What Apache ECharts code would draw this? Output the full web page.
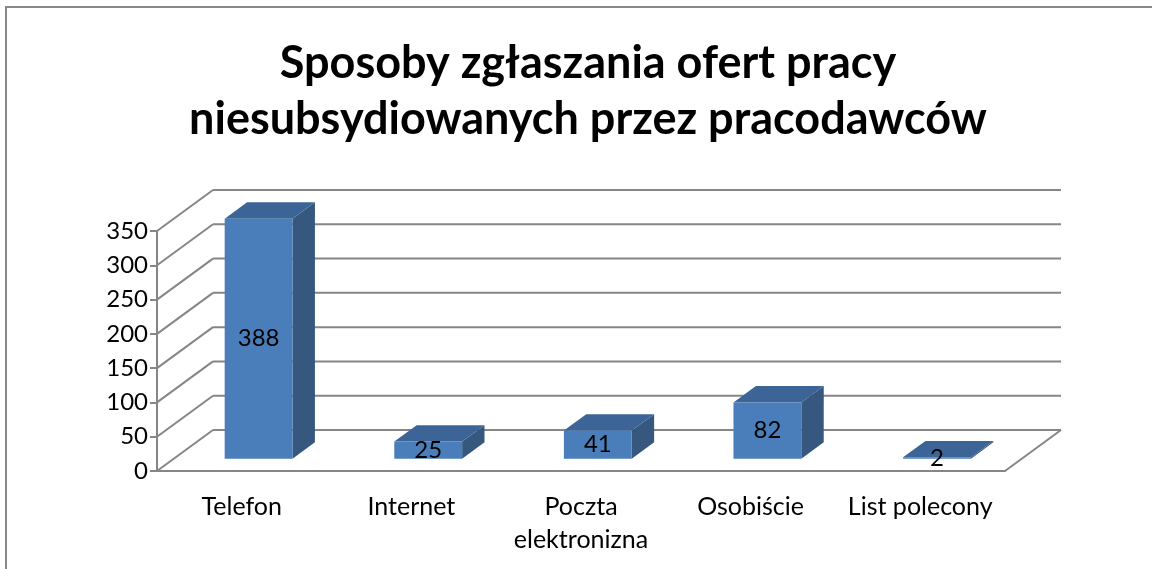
<!DOCTYPE html>
<html>
<head>
<meta charset="utf-8">
<script src="https://cdn.jsdelivr.net/npm/echarts@6/dist/echarts.min.js"></script>
<style>
  html, body { margin: 0; padding: 0; background: #fff; }
  #chart { width: 1152px; height: 569px; }
</style>
</head>
<body>
<div id="chart"></div>
<script>
    var categories = ['Telefon', 'Internet', 'Poczta\nelektronizna', 'Osobiście', 'List polecony'];
    var values = [388, 25, 41, 82, 2];
    var yTicks = [0, 50, 100, 150, 200, 250, 300, 350];
    var yMax = 350;

    // 3d look: offset of the back wall from the front plane
    var depthX = 56, depthY = -41;
    var barFront = 0.3, barBack = 0.7;
    var gridColor = '#868686';

    var chart = echarts.init(document.getElementById('chart'));

    function wallItem(params, api) {
        var v = api.value(1);
        var p = api.coord([0, v]);
        var catW = api.size([1, 0])[0];
        var x0 = p[0] - catW / 2;
        var x1 = x0 + catW * categories.length;
        var y = p[1];
        var style = { stroke: gridColor, lineWidth: 2 };
        var children = [
            { type: 'line', shape: { x1: x0, y1: y, x2: x0 + depthX, y2: y + depthY }, style: style },
            { type: 'line', shape: { x1: x0 + depthX, y1: y + depthY, x2: x1 + depthX, y2: y + depthY }, style: style }
        ];
        if (v === 0) {
            children.push({ type: 'line', shape: { x1: x1, y1: y, x2: x1 + depthX, y2: y + depthY }, style: style });
        }
        return { type: 'group', children: children };
    }

    function barItem(params, api) {
        var idx = api.value(0);
        var v = Math.min(api.value(1), yMax);
        var base = api.coord([idx, 0]);
        var top = api.coord([idx, v]);
        var catW = api.size([1, 0])[0];
        var w = catW * 0.4;
        var left = base[0] + barFront * depthX - w / 2;
        var right = left + w;
        var yb = base[1] + barFront * depthY;
        var yt = top[1] + barFront * depthY;
        var dx = (barBack - barFront) * depthX;
        var dy = (barBack - barFront) * depthY;
        return {
            type: 'group',
            children: [
                {
                    type: 'polygon',
                    shape: { points: [[right, yt], [right + dx, yt + dy], [right + dx, yb + dy], [right, yb]] },
                    style: { fill: '#36587F' }
                },
                {
                    type: 'polygon',
                    shape: { points: [[left, yt], [right, yt], [right + dx, yt + dy], [left + dx, yt + dy]] },
                    style: { fill: '#3C6496' }
                },
                {
                    type: 'rect',
                    shape: { x: left, y: yt, width: w, height: yb - yt },
                    style: { fill: '#4A7EBB' }
                },
                {
                    type: 'text',
                    x: (left + right) / 2,
                    y: (yt + yb) / 2,
                    style: {
                        text: String(api.value(1)),
                        fill: '#000',
                        font: '24px Lato',
                        align: 'center',
                        verticalAlign: 'middle'
                    }
                }
            ]
        };
    }

    var option = {
        animation: false,
        title: {
            text: 'Sposoby zgłaszania ofert pracy\nniesubsydiowanych przez pracodawców',
            left: 583,
            top: 30,
            textAlign: 'center',
            textStyle: {
                fontFamily: 'Lato',
                fontWeight: 'bold',
                fontSize: 45,
                lineHeight: 56,
                color: '#000'
            }
        },
        graphic: [{
            type: 'rect',
            shape: { x: 6, y: 7, width: 1200, height: 600 },
            style: { fill: 'none', stroke: '#888', lineWidth: 2 }
        }],
        grid: {
            left: 157,
            right: 147,
            top: 231,
            bottom: 98
        },
        xAxis: {
            type: 'category',
            data: categories,
            axisLine: { lineStyle: { color: gridColor, width: 2 } },
            axisTick: { length: 8, lineStyle: { color: gridColor, width: 2 } },
            axisLabel: {
                interval: 0,
                margin: 19,
                fontFamily: 'Lato',
                fontSize: 25,
                lineHeight: 33,
                color: '#000'
            }
        },
        yAxis: {
            type: 'value',
            min: 0,
            max: yMax,
            interval: 50,
            axisLine: { show: true, lineStyle: { color: gridColor, width: 2 } },
            axisTick: { show: true, length: 7, lineStyle: { color: gridColor, width: 2 } },
            splitLine: { show: false },
            axisLabel: {
                margin: 9,
                fontFamily: 'Lato',
                fontSize: 24,
                color: '#000'
            }
        },
        series: [
            {
                type: 'custom',
                name: 'walls',
                clip: false,
                silent: true,
                z: 1,
                renderItem: wallItem,
                data: yTicks.map(function (v) { return [0, v]; })
            },
            {
                type: 'custom',
                name: 'bars',
                clip: false,
                z: 2,
                renderItem: barItem,
                data: values.map(function (v, i) { return [i, v]; })
            }
        ]
    };

    chart.setOption(option);
</script>
</body>
</html>
